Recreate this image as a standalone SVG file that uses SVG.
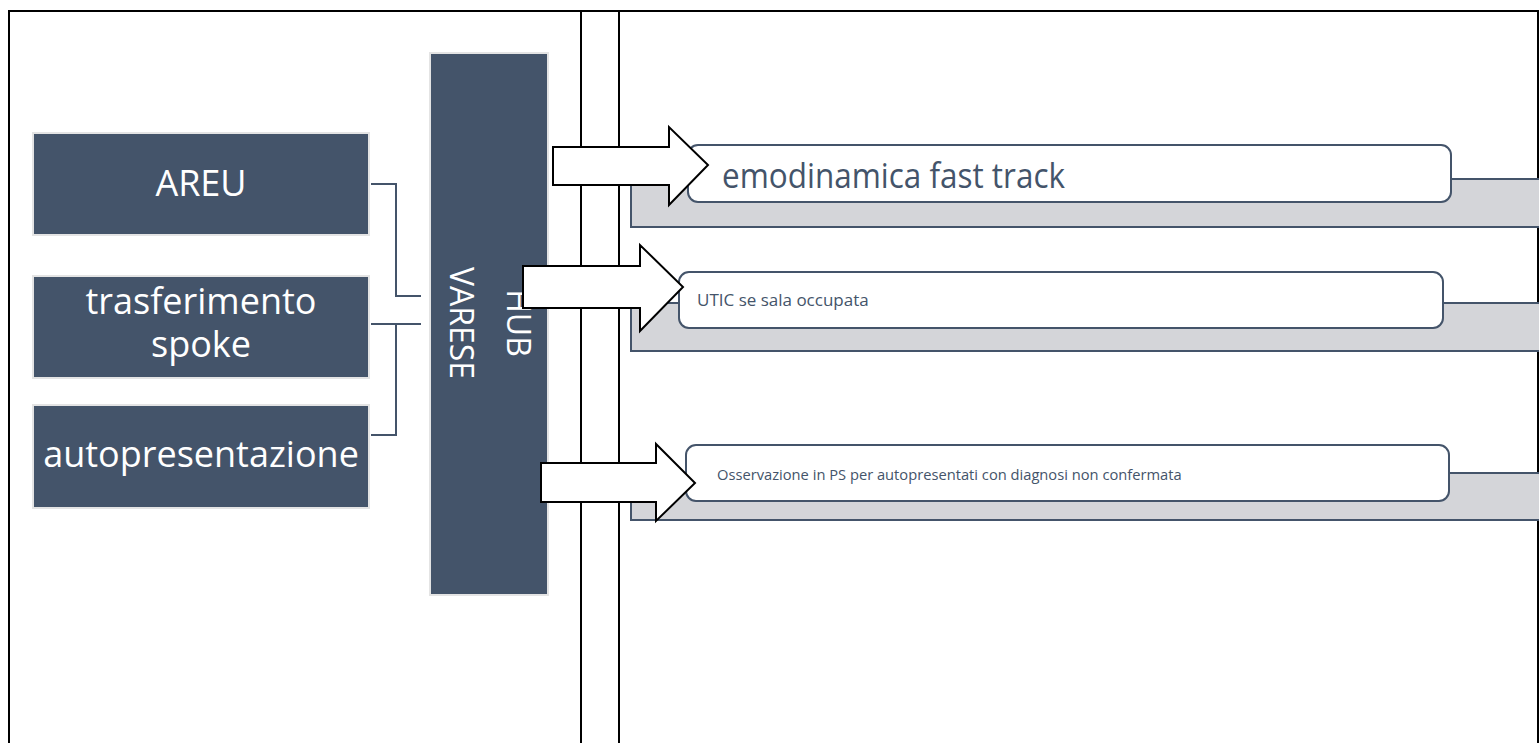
<svg xmlns="http://www.w3.org/2000/svg" width="1539" height="743" viewBox="0 0 1539 743">
  <style>
    .frame { fill: none; stroke: #000; stroke-width: 2; }
    .src { fill: #44546a; stroke: #e4e4e4; stroke-width: 2; }
    .src-text { fill: #fff; font-family: "Open Sans", "Noto Sans", sans-serif; font-size: 36px; text-anchor: middle; }
    .hub-text { fill: #fff; font-family: "Open Sans", "Noto Sans", sans-serif; font-size: 32px; text-anchor: middle; }
    .link { fill: none; stroke: #44546a; stroke-width: 2; }
    .band { fill: #d4d5d9; stroke: #44546a; stroke-width: 2; }
    .card { fill: #fff; stroke: #44546a; stroke-width: 2; }
    .card-text { fill: #44546a; font-family: "Open Sans", "Noto Sans", sans-serif; }
    .block-arrow { fill: #fff; stroke: #000; stroke-width: 2; stroke-linejoin: miter; }
  </style>

  <!-- table frame -->
  <g id="frame">
    <path class="frame" d="M9,760 V11 H1538 V760"/>
    <line class="frame" x1="581" y1="11" x2="581" y2="760"/>
    <line class="frame" x1="619" y1="11" x2="619" y2="760"/>
  </g>

  <!-- sources -->
  <g id="areu">
    <rect class="src" x="33" y="133" width="336" height="102"/>
    <text class="src-text" x="201" y="196">AREU</text>
  </g>
  <g id="trasferimento-spoke">
    <rect class="src" x="33" y="276" width="336" height="102"/>
    <text class="src-text" x="201" y="314">trasferimento</text>
    <text class="src-text" x="201" y="357">spoke</text>
  </g>
  <g id="autopresentazione">
    <rect class="src" x="33" y="405" width="336" height="103"/>
    <text class="src-text" x="201" y="467">autopresentazione</text>
  </g>

  <!-- hub -->
  <g id="hub-varese">
    <rect class="src" x="430" y="53" width="118" height="542"/>
    <text class="hub-text" transform="translate(507,323) rotate(90)">HUB</text>
    <text class="hub-text" transform="translate(450,323) rotate(90)">VARESE</text>
  </g>

  <!-- connectors from sources to hub -->
  <g id="connectors">
    <path class="link" d="M371,184 H396 V296 H421"/>
    <path class="link" d="M371,324 H421"/>
    <path class="link" d="M396,324 V435 H371"/>
  </g>

  <!-- outcomes -->
  <g id="emodinamica">
    <rect class="band" x="631" y="179" width="910" height="48"/>
    <rect class="card" x="688" y="145" width="763" height="57" rx="10"/>
    <text class="card-text" x="722" y="188" font-size="35" textLength="343" lengthAdjust="spacingAndGlyphs">emodinamica fast track</text>
  </g>
  <g id="utic">
    <rect class="band" x="631" y="303" width="910" height="48"/>
    <rect class="card" x="679" y="272" width="764" height="56" rx="10"/>
    <text class="card-text" x="697" y="306" font-size="17">UTIC se sala occupata</text>
  </g>
  <g id="osservazione">
    <rect class="band" x="631" y="473" width="910" height="47"/>
    <rect class="card" x="686" y="445" width="763" height="56" rx="10"/>
    <text class="card-text" x="717" y="480" font-size="14.7">Osservazione in PS per autopresentati con diagnosi non confermata</text>
  </g>

  <!-- block arrows from hub to outcomes -->
  <g id="arrows">
    <polygon class="block-arrow" points="553,147 669,147 669,127 708,165 669,205 669,185 553,185"/>
    <polygon class="block-arrow" points="523,266 640,266 640,245 683,287 640,331 640,308 523,308"/>
    <polygon class="block-arrow" points="541,463 656,463 656,444 695,483 656,521 656,502 541,502"/>
  </g>
</svg>
